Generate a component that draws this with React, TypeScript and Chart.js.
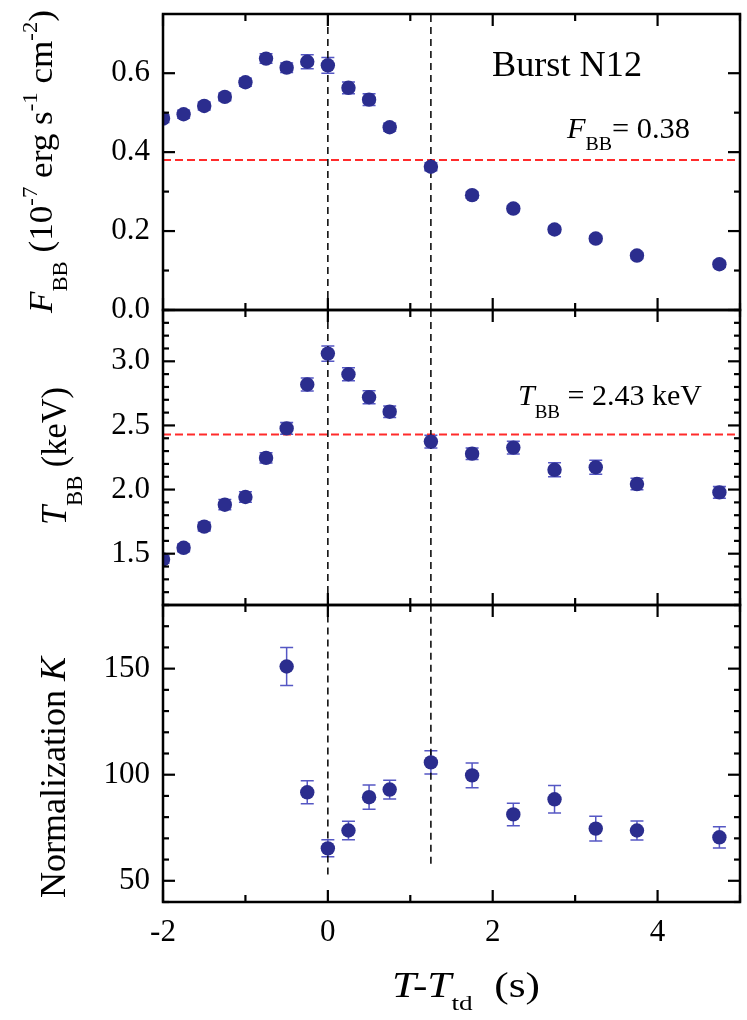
import React, { useEffect, useRef } from "react";
import { Chart, registerables } from "chart.js";

Chart.register(...registerables);

// ---------------- data ----------------
const timeBins = [-2, -1.75, -1.5, -1.25, -1.0, -0.75, -0.5, -0.25, 0, 0.25, 0.5, 0.75, 1.25, 1.75, 2.25, 2.75, 3.25, 3.75, 4.75];
const fluxValues = [0.485, 0.496, 0.517, 0.54, 0.577, 0.637, 0.614, 0.629, 0.62, 0.563, 0.533, 0.463, 0.363, 0.291, 0.257, 0.204, 0.181, 0.138, 0.116];
const fluxErrors = [0.01, 0.01, 0.01, 0.01, 0.01, 0.012, 0.012, 0.018, 0.02, 0.015, 0.015, 0.01, 0.01, 0.008, 0.008, 0.008, 0.008, 0.008, 0.008];
const tempValues = [1.455, 1.546, 1.711, 1.882, 1.942, 2.247, 2.477, 2.819, 3.06, 2.899, 2.72, 2.607, 2.374, 2.28, 2.327, 2.154, 2.174, 2.043, 1.978];
const tempErrors = [0.03, 0.03, 0.035, 0.04, 0.04, 0.04, 0.045, 0.05, 0.06, 0.05, 0.05, 0.045, 0.05, 0.045, 0.05, 0.055, 0.055, 0.045, 0.045];
const normTimes = [-0.5, -0.25, 0, 0.25, 0.5, 0.75, 1.25, 1.75, 2.25, 2.75, 3.25, 3.75, 4.75];
const normValues = [151, 91.7, 65.3, 73.7, 89.4, 93, 105.8, 99.7, 81.3, 88.4, 74.6, 73.7, 70.5];
const normErrors = [9, 5.4, 4, 4.4, 5.7, 4.4, 5.5, 5.8, 5.3, 6.5, 5.8, 4.5, 5];
const touchdownTimes = [0, 1.25];
const normDashBottoms = [53, 58];
const fluxLevel = 0.38;
const tempLevel = 2.43;
const xLabelValues = [-2, 0, 2, 4];

// ---------------- styling ----------------
const PAGE_W = 747;
const PAGE_H = 1020;
const PLOT_LEFT = 163;
const PLOT_RIGHT = 740;
const X_MIN = -2;
const X_MAX = 5;
const SERIF = '"Liberation Serif", "Times New Roman", Times, serif';
const POINT_COLOR = "#2b2d8e";
const ERR_COLOR = "#5557c4";
const LEVEL_COLOR = "#ff2b2b";

type Seg = { t: string; size: number; italic?: boolean; dy?: number };
type TextSpec = { x: number; y: number; width: number; rotate?: boolean; segs: Seg[] };

type PanelSpec = {
  key: string;
  top: number;
  bottom: number;
  yMin: number;
  yMax: number;
  yStep: number;
  yMajor: number;
  decimals: number;
  xs: number[];
  ys: number[];
  errs: number[];
  level?: number;
  vLines: { x: number; y0: number; y1: number }[];
  showX: boolean;
  texts: TextSpec[];
};

const isMultiple = (v: number, m: number) => Math.abs(v / m - Math.round(v / m)) < 1e-6;

const fontOf = (s: Seg) => `${s.italic ? "italic " : ""}${s.size}px ${SERIF}`;

function drawRich(ctx: CanvasRenderingContext2D, spec: TextSpec) {
  ctx.save();
  let natural = 0;
  const widths = spec.segs.map((s) => {
    ctx.font = fontOf(s);
    const w = ctx.measureText(s.t).width;
    natural += w;
    return w;
  });
  const sx = spec.width / natural;
  ctx.translate(spec.x, spec.y);
  if (spec.rotate) ctx.rotate(-Math.PI / 2);
  ctx.scale(sx, 1);
  ctx.fillStyle = "#000";
  ctx.textAlign = "left";
  ctx.textBaseline = "alphabetic";
  let cx = 0;
  spec.segs.forEach((s, i) => {
    ctx.font = fontOf(s);
    ctx.fillText(s.t, cx, s.dy || 0);
    cx += widths[i];
  });
  ctx.restore();
}

const PANELS: PanelSpec[] = [
  {
    key: "flux",
    top: 14,
    bottom: 310,
    yMin: 0,
    yMax: 0.75,
    yStep: 0.1,
    yMajor: 0.2,
    decimals: 1,
    xs: timeBins,
    ys: fluxValues,
    errs: fluxErrors,
    level: fluxLevel,
    vLines: touchdownTimes.map((t) => ({ x: t, y0: 0, y1: 0.75 })),
    showX: false,
    texts: [
      {
        x: 52,
        y: 313,
        width: 303,
        rotate: true,
        segs: [
          { t: "F", size: 34, italic: true },
          { t: "BB", size: 22, dy: 15 },
          { t: " (10", size: 34 },
          { t: "-7", size: 22, dy: -15 },
          { t: " erg s", size: 34 },
          { t: "-1", size: 22, dy: -15 },
          { t: " cm", size: 34 },
          { t: "-2", size: 22, dy: -15 },
          { t: ")", size: 34 },
        ],
      },
      { x: 492, y: 76, width: 150, segs: [{ t: "Burst N12", size: 35 }] },
      {
        x: 567,
        y: 138,
        width: 123,
        segs: [
          { t: "F", size: 29, italic: true },
          { t: "BB", size: 19, dy: 12 },
          { t: "= 0.38", size: 29 },
        ],
      },
    ],
  },
  {
    key: "temp",
    top: 310,
    bottom: 605,
    yMin: 1.1,
    yMax: 3.4,
    yStep: 0.1,
    yMajor: 0.5,
    decimals: 1,
    xs: timeBins,
    ys: tempValues,
    errs: tempErrors,
    level: tempLevel,
    vLines: touchdownTimes.map((t) => ({ x: t, y0: 1.1, y1: 3.4 })),
    showX: false,
    texts: [
      {
        x: 66,
        y: 525,
        width: 138,
        rotate: true,
        segs: [
          { t: "T", size: 35, italic: true },
          { t: "BB", size: 23, dy: 16 },
          { t: " (keV)", size: 35 },
        ],
      },
      {
        x: 518,
        y: 405,
        width: 184,
        segs: [
          { t: "T", size: 30, italic: true },
          { t: "BB", size: 19, dy: 13 },
          { t: " = 2.43 keV", size: 30 },
        ],
      },
    ],
  },
  {
    key: "norm",
    top: 605,
    bottom: 902,
    yMin: 40,
    yMax: 180,
    yStep: 10,
    yMajor: 50,
    decimals: 0,
    xs: normTimes,
    ys: normValues,
    errs: normErrors,
    vLines: touchdownTimes.map((t, i) => ({ x: t, y0: normDashBottoms[i], y1: 180 })),
    showX: true,
    texts: [
      {
        x: 65,
        y: 898,
        width: 241,
        rotate: true,
        segs: [
          { t: "Normalization ", size: 35 },
          { t: "K", size: 35, italic: true },
        ],
      },
      {
        x: 392,
        y: 997,
        width: 148,
        segs: [
          { t: "T-T", size: 35, italic: true },
          { t: "td", size: 22, dy: 13 },
          { t: "  (s)", size: 35 },
        ],
      },
    ],
  },
];

function buildChart(canvas: HTMLCanvasElement, spec: PanelSpec) {
  const datasets: any[] = [
    {
      type: "scatter",
      data: spec.xs.map((x, i) => ({ x, y: spec.ys[i] })),
      pointRadius: 7.2,
      pointHoverRadius: 7.2,
      backgroundColor: POINT_COLOR,
      borderWidth: 0,
      clip: 0,
      order: 0,
    },
  ];
  spec.vLines.forEach((v) => {
    datasets.push({
      type: "scatter",
      showLine: true,
      data: [
        { x: v.x, y: v.y0 },
        { x: v.x, y: v.y1 },
      ],
      borderColor: "#000",
      borderWidth: 1.5,
      borderDash: [7, 5],
      pointRadius: 0,
      order: 1,
    });
  });
  if (spec.level !== undefined) {
    datasets.push({
      type: "scatter",
      showLine: true,
      data: [
        { x: X_MIN, y: spec.level },
        { x: X_MAX, y: spec.level },
      ],
      borderColor: LEVEL_COLOR,
      borderWidth: 2,
      borderDash: [8, 4],
      pointRadius: 0,
      order: 2,
    });
  }

  const errorBars = {
    id: "errorBars_" + spec.key,
    beforeDatasetsDraw(chart: any) {
      const { ctx, chartArea: a } = chart;
      const xs = chart.scales.x;
      const ys = chart.scales.y;
      ctx.save();
      ctx.beginPath();
      ctx.rect(a.left, a.top, a.right - a.left, a.bottom - a.top);
      ctx.clip();
      ctx.strokeStyle = ERR_COLOR;
      ctx.lineWidth = 1.5;
      spec.xs.forEach((xv, i) => {
        const px = xs.getPixelForValue(xv);
        const yTop = ys.getPixelForValue(spec.ys[i] + spec.errs[i]);
        const yBot = ys.getPixelForValue(spec.ys[i] - spec.errs[i]);
        ctx.beginPath();
        ctx.moveTo(px, yTop);
        ctx.lineTo(px, yBot);
        ctx.moveTo(px - 6.5, yTop);
        ctx.lineTo(px + 6.5, yTop);
        ctx.moveTo(px - 6.5, yBot);
        ctx.lineTo(px + 6.5, yBot);
        ctx.stroke();
      });
      ctx.restore();
    },
  };

  const frame = {
    id: "frame_" + spec.key,
    afterDraw(chart: any) {
      const { ctx, chartArea: a } = chart;
      const xs = chart.scales.x;
      const ys = chart.scales.y;
      ctx.save();
      ctx.strokeStyle = "#000";
      ctx.lineWidth = 2.5;
      ctx.strokeRect(a.left, a.top, a.right - a.left, a.bottom - a.top);
      ctx.lineWidth = 2.2;
      const line = (x1: number, y1: number, x2: number, y2: number) => {
        ctx.beginPath();
        ctx.moveTo(x1, y1);
        ctx.lineTo(x2, y2);
        ctx.stroke();
      };
      ys.ticks.forEach((t: any) => {
        if (!isMultiple(t.value, spec.yStep)) return;
        const major = isMultiple(t.value, spec.yMajor);
        const len = major ? 12 : 6;
        const py = ys.getPixelForValue(t.value);
        line(a.left, py, a.left + len, py);
        line(a.right, py, a.right - len, py);
      });
      let xTickValues: number[] = (xs.ticks || []).map((t: any) => t.value);
      if (!xTickValues.length) {
        xTickValues = [];
        for (let v = X_MIN; v <= X_MAX; v += 1) xTickValues.push(v);
      }
      xTickValues.forEach((v) => {
        const major = isMultiple(v, 2);
        const len = major ? 12 : 7;
        const px = xs.getPixelForValue(v);
        line(px, a.top, px, a.top + len);
        line(px, a.bottom, px, a.bottom - len);
      });
      ctx.restore();
      spec.texts.forEach((t) => drawRich(ctx, t));
    },
  };

  const tickFont = { family: SERIF, size: 31 };

  return new Chart(canvas, {
    type: "scatter",
    data: { datasets },
    plugins: [errorBars, frame],
    options: {
      responsive: false,
      animation: false,
      events: [],
      layout: {
        autoPadding: false,
        padding: {
          left: 0,
          right: PAGE_W - PLOT_RIGHT,
          top: spec.top,
          bottom: spec.showX ? 0 : PAGE_H - spec.bottom,
        },
      },
      plugins: {
        legend: { display: false },
        tooltip: { enabled: false },
        title: { display: false },
      },
      scales: {
        x: {
          type: "linear",
          min: X_MIN,
          max: X_MAX,
          display: spec.showX,
          grid: { display: false, drawTicks: false },
          border: { display: false },
          ticks: {
            stepSize: 1,
            autoSkip: false,
            maxRotation: 0,
            padding: 12,
            color: "#000",
            font: tickFont,
            callback: (v: any) => (xLabelValues.includes(Number(v)) ? String(v) : ""),
          },
          afterFit: (s: any) => {
            s.height = spec.showX ? PAGE_H - spec.bottom : 0;
            s.paddingLeft = 0;
            s.paddingRight = 0;
          },
        },
        y: {
          type: "linear",
          min: spec.yMin,
          max: spec.yMax,
          grid: { display: false, drawTicks: false },
          border: { display: false },
          ticks: {
            stepSize: spec.yStep,
            autoSkip: false,
            padding: 13,
            color: "#000",
            font: tickFont,
            callback: (v: any) => (isMultiple(Number(v), spec.yMajor) ? Number(v).toFixed(spec.decimals) : ""),
          },
          afterFit: (s: any) => {
            s.width = PLOT_LEFT;
            s.paddingTop = 0;
            s.paddingBottom = 0;
          },
        },
      },
    } as any,
  });
}

export default function App() {
  const r0 = useRef<HTMLCanvasElement>(null);
  const r1 = useRef<HTMLCanvasElement>(null);
  const r2 = useRef<HTMLCanvasElement>(null);
  const refs = [r0, r1, r2];

  useEffect(() => {
    const charts = PANELS.map((spec, i) => buildChart(refs[i].current as HTMLCanvasElement, spec));
    return () => charts.forEach((c) => c.destroy());
  }, []);

  return (
    <div style={{ position: "absolute", left: 0, top: 0, width: PAGE_W, height: PAGE_H, background: "#fff" }}>
      {PANELS.map((p, i) => (
        <canvas
          key={p.key}
          ref={refs[i]}
          width={PAGE_W}
          height={PAGE_H}
          style={{ position: "absolute", left: 0, top: 0, width: PAGE_W, height: PAGE_H }}
        />
      ))}
    </div>
  );
}
